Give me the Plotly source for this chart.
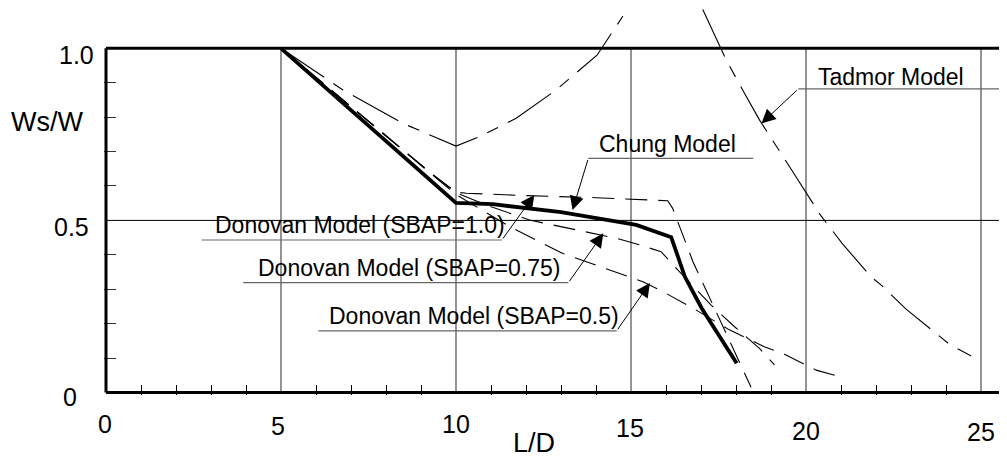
import plotly.graph_objects as go

# ---------------- data ----------------
chung_x = [5, 10, 11.05, 13.0, 15.15, 16.15, 16.54, 17.02, 17.5, 18.02]
chung_y = [1.0, 0.551, 0.547, 0.524, 0.487, 0.451, 0.336, 0.245, 0.168, 0.085]

don10_x = [5, 7.0, 8.77, 9.24, 10.0, 10.3, 12.0, 14.0, 16.05, 16.19, 16.77, 18.43]
don10_y = [1.0, 0.83, 0.680, 0.641, 0.582, 0.579, 0.572, 0.566, 0.557, 0.535, 0.38, 0.015]

don075_x = [5, 7.0, 8.77, 9.24, 10.0, 10.86, 12.1, 14.58, 15.24, 15.86, 16.29, 17.29, 17.96, 18.67, 19.1]
don075_y = [1.0, 0.83, 0.680, 0.641, 0.580, 0.545, 0.501, 0.448, 0.429, 0.409, 0.361, 0.254, 0.191, 0.128, 0.08]

don05_x = [5, 7.0, 8.77, 9.24, 10.0, 11.53, 13.05, 15.34, 15.91, 16.77, 17.81, 18.81, 19.43, 20.29, 20.9]
don05_y = [1.0, 0.83, 0.680, 0.641, 0.575, 0.482, 0.404, 0.322, 0.293, 0.245, 0.182, 0.133, 0.109, 0.065, 0.048]

v_x = [5, 6.19, 6.77, 8.48, 9.05, 10.0, 10.67, 11.72, 12.86, 14.03, 14.77]
v_y = [1.0, 0.917, 0.879, 0.782, 0.758, 0.716, 0.743, 0.797, 0.879, 0.98, 1.094]

tadmor_x = [17.05, 17.72, 18.19, 18.67, 19.58, 20.43, 21.05, 21.86, 22.15, 22.86, 24.1, 24.72]
tadmor_y = [1.113, 0.966, 0.879, 0.792, 0.648, 0.513, 0.431, 0.336, 0.312, 0.242, 0.14, 0.106]

x_tick_vals = [0, 5, 10, 15, 20, 25]
x_tick_text = ["0", "5", "10", "15", "20", "25"]
y_tick_vals = [0, 0.5, 1.0]
y_tick_text = ["0", "0.5", "1.0"]
minor_x = [1, 2, 3, 4, 6, 7, 8, 9, 11, 12, 13, 14, 16, 17, 18, 19, 21, 22, 23, 24]
minor_y = [0.1, 0.2, 0.3, 0.4, 0.6, 0.7, 0.8, 0.9]
grid_x = [5, 10, 15, 20, 25]
grid_y = [0.5]

x_title = "L/D"
y_title = "Ws/W"

label_text = ["Chung Model", "Donovan Model (SBAP=1.0)", "Donovan Model (SBAP=0.75)",
              "Donovan Model (SBAP=0.5)", "Tadmor Model"]
# arrow tips (points on the curves the labels refer to)
label_tip = [(13.33, 0.530), (12.24, 0.574), (14.21, 0.4625), (15.54, 0.318), (18.73, 0.782)]

# ---------------- layout / style (positions, sizes) ----------------
# the page body has an 8px margin, so the figure is 8px smaller than the window
PX_PER_X = 35.0
W, H = 999, 452
ML, MB = 96, 65
X_MIN = -2 / PX_PER_X
X_MAX = X_MIN + (W - ML) / PX_PER_X
PX_PER_Y = 344.2
Y_MIN = -2.5 / PX_PER_Y
Y_MAX = Y_MIN + (H - MB) / PX_PER_Y

FONT = "Liberation Sans, Arial, sans-serif"
label_center = [(16.03, 0.723), (7.25, 0.487), (8.66, 0.363), (10.51, 0.223), (22.44, 0.917)]
underline = [(13.78, 18.49, 0.680), (2.73, 11.31, 0.443), (3.92, 13.21, 0.319),
             (6.07, 14.59, 0.179), (19.78, 25.52, 0.882)]
x_tick_shift = [(-1, -31.5), (-3, -33.2), (0, -31.5), (-1, -35.8), (0, -38.2), (0, -39.2)]
y_tick_shift = [(-36, -4.2), (-35, -6.7), (-30, -6.7)]

DON_DASH = "22px,11px"
LDD_DASH = "52px,11px,12px,11px"

fig = go.Figure()

def add_line(xs, ys, width, dash, name):
    fig.add_trace(go.Scatter(x=xs, y=ys, mode="lines", name=name,
                             line=dict(color="black", width=width, dash=dash),
                             cliponaxis=False, hoverinfo="skip"))

add_line(v_x, v_y, 1.1, LDD_DASH, "unlabelled")
add_line(tadmor_x, tadmor_y, 1.1, LDD_DASH, "Tadmor Model")
add_line(don05_x, don05_y, 1.1, DON_DASH, "Donovan Model (SBAP=0.5)")
add_line(don075_x, don075_y, 1.1, DON_DASH, "Donovan Model (SBAP=0.75)")
add_line(don10_x, don10_y, 1.1, DON_DASH, "Donovan Model (SBAP=1.0)")
add_line(chung_x, chung_y, 3.8, "solid", "Chung Model")

shapes = []
for gx in grid_x:
    shapes.append(dict(type="line", xref="x", yref="y", x0=gx, x1=gx, y0=0, y1=1.0,
                       line=dict(color="#5a5a5a", width=1.3), layer="below"))
for gy in grid_y:
    shapes.append(dict(type="line", xref="x", yref="y", x0=0, x1=X_MAX, y0=gy, y1=gy,
                       line=dict(color="black", width=1), layer="below"))
# frame: left, top, bottom
shapes.append(dict(type="line", xref="x", yref="y", x0=0, x1=0, y0=0, y1=1.0,
                   line=dict(color="black", width=3)))
shapes.append(dict(type="line", xref="x", yref="y", x0=0, x1=X_MAX, y0=1.0, y1=1.0,
                   line=dict(color="black", width=3)))
shapes.append(dict(type="line", xref="x", yref="y", x0=0, x1=X_MAX, y0=0, y1=0,
                   line=dict(color="black", width=3)))
# label underlines
for (u0, u1, uy) in underline:
    shapes.append(dict(type="line", xref="x", yref="y", x0=u0, x1=u1, y0=uy, y1=uy,
                       line=dict(color="#666666", width=1.2)))

annotations = []
for txt, (cx, cy) in zip(label_text, label_center):
    annotations.append(dict(x=cx, y=cy, xref="x", yref="y", text=txt, showarrow=False,
                            xanchor="center", yanchor="middle",
                            font=dict(family=FONT, size=23, color="black")))
for (u0, u1, uy), (tx, ty), txt in zip(underline, label_tip, label_text):
    tail_x = u1 if tx > u1 else u0
    annotations.append(dict(x=tx, y=ty, xref="x", yref="y", ax=tail_x, ay=uy,
                            axref="x", ayref="y", text="", showarrow=True,
                            arrowhead=2, arrowsize=2.8, arrowwidth=1, arrowcolor="black",
                            standoff=0, startstandoff=0))
for v, t, (dx, dy) in zip(x_tick_vals, x_tick_text, x_tick_shift):
    annotations.append(dict(x=v, y=0, xref="x", yref="y", text=t, showarrow=False,
                            xanchor="center", yanchor="middle", xshift=dx, yshift=dy,
                            font=dict(family=FONT, size=25, color="black")))
for v, t, (dx, dy) in zip(y_tick_vals, y_tick_text, y_tick_shift):
    annotations.append(dict(x=0, y=v, xref="x", yref="y", text=t, showarrow=False,
                            xanchor="center", yanchor="middle", xshift=dx, yshift=dy,
                            font=dict(family=FONT, size=25, color="black")))
annotations.append(dict(x=12.23, y=0, xref="x", yref="y", text=x_title, showarrow=False,
                        xanchor="center", yanchor="middle", yshift=-50.5,
                        font=dict(family=FONT, size=27, color="black")))
annotations.append(dict(x=0, y=0.787, xref="x", yref="y", text=y_title, showarrow=False,
                        xanchor="center", yanchor="middle", xshift=-59.3,
                        font=dict(family=FONT, size=27, color="black")))

fig.update_layout(
    width=W, height=H, autosize=False,
    margin=dict(l=ML, r=0, t=0, b=MB, pad=0),
    paper_bgcolor="white", plot_bgcolor="white",
    showlegend=False,
    shapes=shapes, annotations=annotations,
    xaxis=dict(range=[X_MIN, X_MAX], showgrid=False, zeroline=False, showline=False,
               ticks="inside", tickvals=minor_x, ticklen=10, tickwidth=1, tickcolor="black",
               showticklabels=False, fixedrange=True),
    yaxis=dict(range=[Y_MIN, Y_MAX], showgrid=False, zeroline=False, showline=False,
               ticks="inside", tickvals=minor_y, ticklen=12, tickwidth=1, tickcolor="#333333",
               showticklabels=False, fixedrange=True),
)

fig.write_html("out.html", config={"displayModeBar": False})
